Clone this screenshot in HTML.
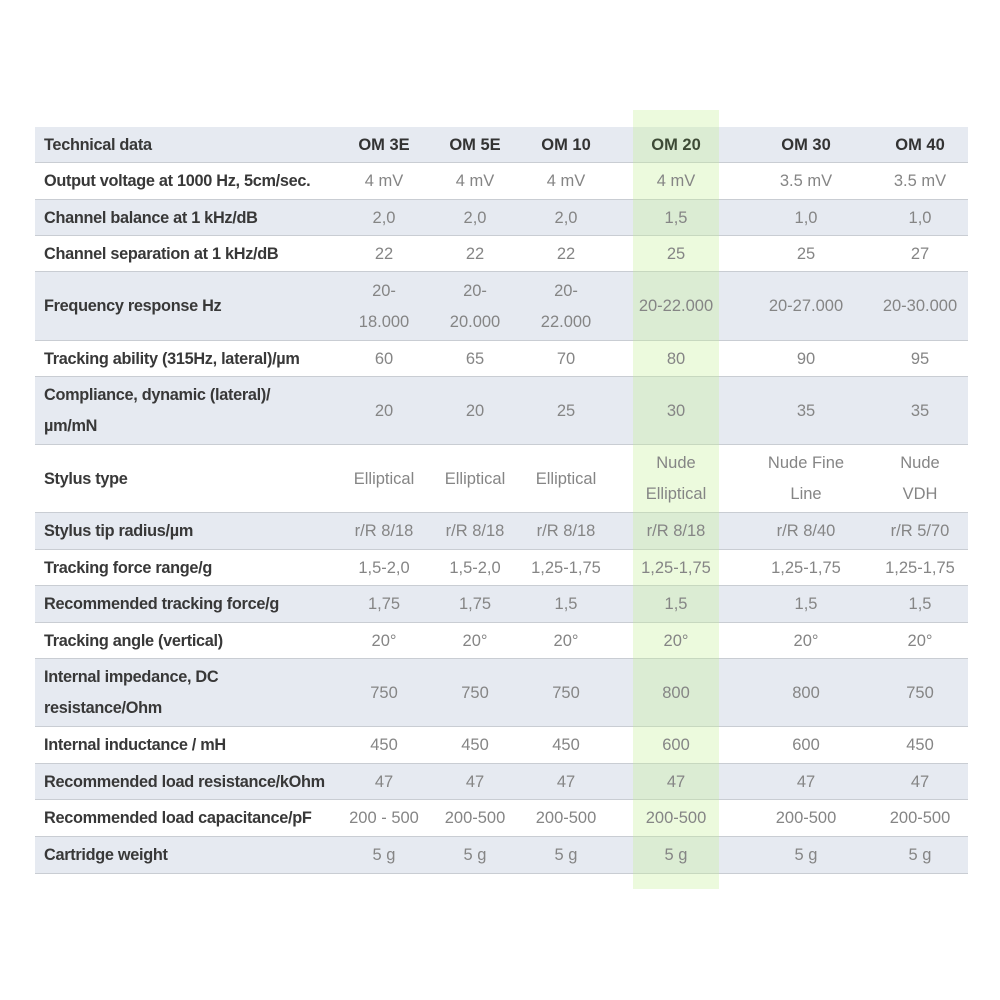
<!DOCTYPE html>
<html><head><meta charset="utf-8"><style>
body{margin:0;width:1000px;height:1000px;background:#fff;position:relative;overflow:hidden;font-family:"Liberation Sans",sans-serif}
.r{position:absolute;left:35px;width:933px;border-bottom:1px solid #c9cdd3;box-sizing:border-box}
.s{background:#e6eaf1}
.g{position:absolute;left:633px;width:86px;top:110px;height:779px;background:rgba(195,240,150,0.32)}
.c{position:absolute;display:flex;align-items:center;justify-content:center;text-align:center;line-height:31px;font-size:16.5px;color:#858585;width:120px}
.l{position:absolute;left:44px;display:flex;align-items:center;font-size:16.3px;font-weight:bold;color:#383838;line-height:31px;letter-spacing:-0.3px}
.h{color:#333;font-weight:bold;font-size:16.5px}
</style></head><body>
<div class="r s" style="top:127px;height:36px"></div>
<div class="r" style="top:163px;height:37px"></div>
<div class="r s" style="top:200px;height:36px"></div>
<div class="r" style="top:236px;height:36px"></div>
<div class="r s" style="top:272px;height:69px"></div>
<div class="r" style="top:341px;height:36px"></div>
<div class="r s" style="top:377px;height:68px"></div>
<div class="r" style="top:445px;height:68px"></div>
<div class="r s" style="top:513px;height:37px"></div>
<div class="r" style="top:550px;height:36px"></div>
<div class="r s" style="top:586px;height:37px"></div>
<div class="r" style="top:623px;height:36px"></div>
<div class="r s" style="top:659px;height:68px"></div>
<div class="r" style="top:727px;height:37px"></div>
<div class="r s" style="top:764px;height:36px"></div>
<div class="r" style="top:800px;height:37px"></div>
<div class="r s" style="top:837px;height:37px"></div>
<div class="g"></div>

<div class="l" style="top:127px;height:36px">Technical data</div>
<div class="c h" style="left:324px;top:127px;height:36px">OM 3E</div>
<div class="c h" style="left:415px;top:127px;height:36px">OM 5E</div>
<div class="c h" style="left:506px;top:127px;height:36px">OM 10</div>
<div class="c h" style="left:616px;top:127px;height:36px;color:#3d4a35">OM 20</div>
<div class="c h" style="left:746px;top:127px;height:36px">OM 30</div>
<div class="c h" style="left:860px;top:127px;height:36px">OM 40</div>

<div class="l" style="top:163px;height:37px">Output voltage at 1000 Hz, 5cm/sec.</div>
<div class="c" style="left:324px;top:163px;height:37px">4 mV</div><div class="c" style="left:415px;top:163px;height:37px">4 mV</div><div class="c" style="left:506px;top:163px;height:37px">4 mV</div><div class="c" style="left:616px;top:163px;height:37px">4 mV</div><div class="c" style="left:746px;top:163px;height:37px">3.5 mV</div><div class="c" style="left:860px;top:163px;height:37px">3.5 mV</div>

<div class="l" style="top:200px;height:36px">Channel balance at 1 kHz/dB</div>
<div class="c" style="left:324px;top:200px;height:36px">2,0</div><div class="c" style="left:415px;top:200px;height:36px">2,0</div><div class="c" style="left:506px;top:200px;height:36px">2,0</div><div class="c" style="left:616px;top:200px;height:36px">1,5</div><div class="c" style="left:746px;top:200px;height:36px">1,0</div><div class="c" style="left:860px;top:200px;height:36px">1,0</div>

<div class="l" style="top:236px;height:36px">Channel separation at 1 kHz/dB</div>
<div class="c" style="left:324px;top:236px;height:36px">22</div><div class="c" style="left:415px;top:236px;height:36px">22</div><div class="c" style="left:506px;top:236px;height:36px">22</div><div class="c" style="left:616px;top:236px;height:36px">25</div><div class="c" style="left:746px;top:236px;height:36px">25</div><div class="c" style="left:860px;top:236px;height:36px">27</div>

<div class="l" style="top:272px;height:69px">Frequency response Hz</div>
<div class="c" style="left:324px;top:272px;height:69px">20-<br>18.000</div><div class="c" style="left:415px;top:272px;height:69px">20-<br>20.000</div><div class="c" style="left:506px;top:272px;height:69px">20-<br>22.000</div><div class="c" style="left:616px;top:272px;height:69px">20-22.000</div><div class="c" style="left:746px;top:272px;height:69px">20-27.000</div><div class="c" style="left:860px;top:272px;height:69px">20-30.000</div>

<div class="l" style="top:341px;height:36px">Tracking ability (315Hz, lateral)/µm</div>
<div class="c" style="left:324px;top:341px;height:36px">60</div><div class="c" style="left:415px;top:341px;height:36px">65</div><div class="c" style="left:506px;top:341px;height:36px">70</div><div class="c" style="left:616px;top:341px;height:36px">80</div><div class="c" style="left:746px;top:341px;height:36px">90</div><div class="c" style="left:860px;top:341px;height:36px">95</div>

<div class="l" style="top:377px;height:68px">Compliance, dynamic (lateral)/<br>µm/mN</div>
<div class="c" style="left:324px;top:377px;height:68px">20</div><div class="c" style="left:415px;top:377px;height:68px">20</div><div class="c" style="left:506px;top:377px;height:68px">25</div><div class="c" style="left:616px;top:377px;height:68px">30</div><div class="c" style="left:746px;top:377px;height:68px">35</div><div class="c" style="left:860px;top:377px;height:68px">35</div>

<div class="l" style="top:445px;height:68px">Stylus type</div>
<div class="c" style="left:324px;top:445px;height:68px">Elliptical</div><div class="c" style="left:415px;top:445px;height:68px">Elliptical</div><div class="c" style="left:506px;top:445px;height:68px">Elliptical</div><div class="c" style="left:616px;top:445px;height:68px">Nude<br>Elliptical</div><div class="c" style="left:746px;top:445px;height:68px">Nude Fine<br>Line</div><div class="c" style="left:860px;top:445px;height:68px">Nude<br>VDH</div>

<div class="l" style="top:513px;height:37px">Stylus tip radius/µm</div>
<div class="c" style="left:324px;top:513px;height:37px">r/R 8/18</div><div class="c" style="left:415px;top:513px;height:37px">r/R 8/18</div><div class="c" style="left:506px;top:513px;height:37px">r/R 8/18</div><div class="c" style="left:616px;top:513px;height:37px">r/R 8/18</div><div class="c" style="left:746px;top:513px;height:37px">r/R 8/40</div><div class="c" style="left:860px;top:513px;height:37px">r/R 5/70</div>

<div class="l" style="top:550px;height:36px">Tracking force range/g</div>
<div class="c" style="left:324px;top:550px;height:36px">1,5-2,0</div><div class="c" style="left:415px;top:550px;height:36px">1,5-2,0</div><div class="c" style="left:506px;top:550px;height:36px">1,25-1,75</div><div class="c" style="left:616px;top:550px;height:36px">1,25-1,75</div><div class="c" style="left:746px;top:550px;height:36px">1,25-1,75</div><div class="c" style="left:860px;top:550px;height:36px">1,25-1,75</div>

<div class="l" style="top:586px;height:37px">Recommended tracking force/g</div>
<div class="c" style="left:324px;top:586px;height:37px">1,75</div><div class="c" style="left:415px;top:586px;height:37px">1,75</div><div class="c" style="left:506px;top:586px;height:37px">1,5</div><div class="c" style="left:616px;top:586px;height:37px">1,5</div><div class="c" style="left:746px;top:586px;height:37px">1,5</div><div class="c" style="left:860px;top:586px;height:37px">1,5</div>

<div class="l" style="top:623px;height:36px">Tracking angle (vertical)</div>
<div class="c" style="left:324px;top:623px;height:36px">20°</div><div class="c" style="left:415px;top:623px;height:36px">20°</div><div class="c" style="left:506px;top:623px;height:36px">20°</div><div class="c" style="left:616px;top:623px;height:36px">20°</div><div class="c" style="left:746px;top:623px;height:36px">20°</div><div class="c" style="left:860px;top:623px;height:36px">20°</div>

<div class="l" style="top:659px;height:68px">Internal impedance, DC<br>resistance/Ohm</div>
<div class="c" style="left:324px;top:659px;height:68px">750</div><div class="c" style="left:415px;top:659px;height:68px">750</div><div class="c" style="left:506px;top:659px;height:68px">750</div><div class="c" style="left:616px;top:659px;height:68px">800</div><div class="c" style="left:746px;top:659px;height:68px">800</div><div class="c" style="left:860px;top:659px;height:68px">750</div>

<div class="l" style="top:727px;height:37px">Internal inductance / mH</div>
<div class="c" style="left:324px;top:727px;height:37px">450</div><div class="c" style="left:415px;top:727px;height:37px">450</div><div class="c" style="left:506px;top:727px;height:37px">450</div><div class="c" style="left:616px;top:727px;height:37px">600</div><div class="c" style="left:746px;top:727px;height:37px">600</div><div class="c" style="left:860px;top:727px;height:37px">450</div>

<div class="l" style="top:764px;height:36px">Recommended load resistance/kOhm</div>
<div class="c" style="left:324px;top:764px;height:36px">47</div><div class="c" style="left:415px;top:764px;height:36px">47</div><div class="c" style="left:506px;top:764px;height:36px">47</div><div class="c" style="left:616px;top:764px;height:36px">47</div><div class="c" style="left:746px;top:764px;height:36px">47</div><div class="c" style="left:860px;top:764px;height:36px">47</div>

<div class="l" style="top:800px;height:37px">Recommended load capacitance/pF</div>
<div class="c" style="left:324px;top:800px;height:37px">200 - 500</div><div class="c" style="left:415px;top:800px;height:37px">200-500</div><div class="c" style="left:506px;top:800px;height:37px">200-500</div><div class="c" style="left:616px;top:800px;height:37px">200-500</div><div class="c" style="left:746px;top:800px;height:37px">200-500</div><div class="c" style="left:860px;top:800px;height:37px">200-500</div>

<div class="l" style="top:837px;height:37px">Cartridge weight</div>
<div class="c" style="left:324px;top:837px;height:37px">5 g</div><div class="c" style="left:415px;top:837px;height:37px">5 g</div><div class="c" style="left:506px;top:837px;height:37px">5 g</div><div class="c" style="left:616px;top:837px;height:37px">5 g</div><div class="c" style="left:746px;top:837px;height:37px">5 g</div><div class="c" style="left:860px;top:837px;height:37px">5 g</div>
</body></html>
